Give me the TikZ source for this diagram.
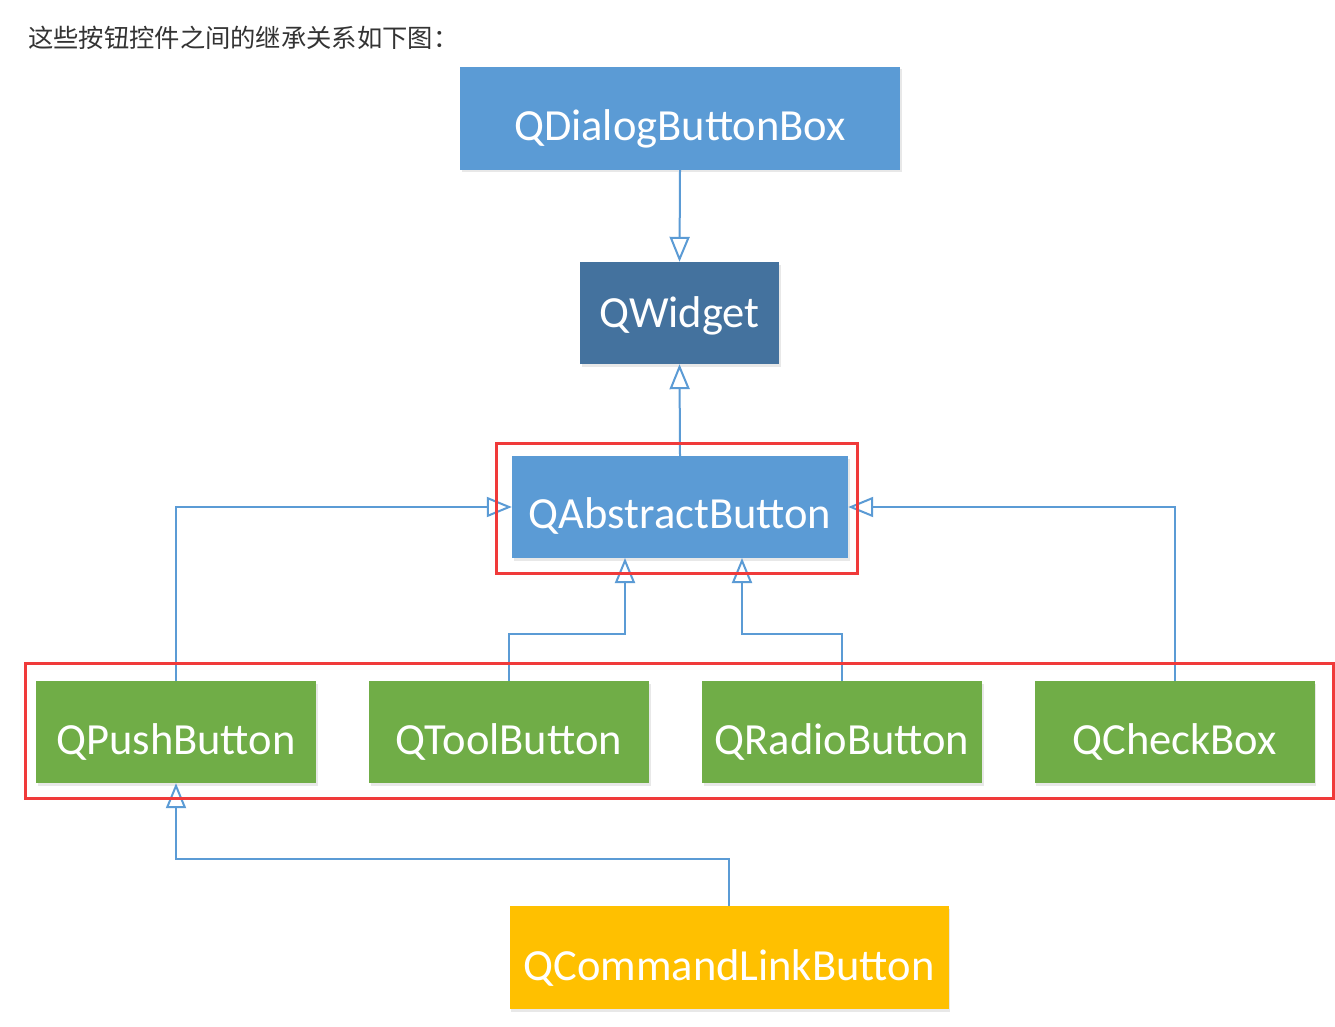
\documentclass[tikz,border=0pt]{standalone}
\usepackage{fontspec}
\setmainfont{Carlito}
\newfontfamily\cjk{Noto Sans CJK SC}
\usetikzlibrary{arrows.meta,shadows}
\definecolor{bluebox}{HTML}{5B9BD5}
\definecolor{darkbox}{HTML}{44729E}
\definecolor{greenbox}{HTML}{70AD47}
\definecolor{yellowbox}{HTML}{FFC000}
\definecolor{linkblue}{HTML}{5B9BD5}
\definecolor{hilite}{HTML}{F03A3A}
\definecolor{titlegray}{HTML}{333333}
\newcommand\lowtext[2]{\raisebox{-#1pt}[\height][\depth]{#2}}
\begin{document}
\begin{tikzpicture}[x=1pt,y=-1pt,
  cls/.style={draw=none, text=white, inner sep=0pt, font=\fontsize{44.5}{47}\selectfont,
    drop shadow={opacity=0.18, shadow xshift=1.5pt, shadow yshift=-2.5pt}},
  inh/.style={draw=linkblue, line width=2pt, -{Triangle[open, length=25pt, width=20pt, fill=white]}},
  frame/.style={draw=hilite, line width=3pt}]
\path[use as bounding box, fill=white] (0,0) rectangle (1335,1027);
\node[anchor=west, text=titlegray, inner sep=0pt, font=\cjk\fontsize{25.3}{27}\selectfont] (title) at (28,38) {这些按钮控件之间的继承关系如下图：};

\node[cls, fill=bluebox, minimum width=440pt, minimum height=103pt] (dbb) at (680,118.5) {\lowtext{10}{QDialogButtonBox}};
\node[cls, fill=darkbox, minimum width=199pt, minimum height=102pt] (wid) at (679.5,313) {\lowtext{3}{QWidget}};
\node[cls, fill=bluebox, minimum width=336pt, minimum height=102pt] (abs) at (680,507) {\lowtext{9}{QAbstractButton}};
\node[cls, fill=greenbox, minimum width=280pt, minimum height=102pt] (push) at (176,732) {\lowtext{10}{QPushButton}};
\node[cls, fill=greenbox, minimum width=280pt, minimum height=102pt] (tool) at (509,732) {\lowtext{10}{QToolButton}};
\node[cls, fill=greenbox, minimum width=280pt, minimum height=102pt] (radio) at (842,732) {\lowtext{10}{QRadioButton}};
\node[cls, fill=greenbox, minimum width=280pt, minimum height=102pt] (check) at (1174.5,732) {\lowtext{10}{QCheckBox}};
\node[cls, fill=yellowbox, minimum width=439pt, minimum height=103pt] (cmd) at (729,957.5) {\lowtext{10}{QCommandLinkButton}};

\draw[inh] (dbb.south) -- (wid.north);
\draw[inh] (abs.north) -- (wid.south);
\draw[inh] (push.north) |- (abs.west);
\draw[inh] (check.north) |- (abs.east);
\draw[inh] (tool.north) -- (509,634) -- (625,634) -- (625,558);
\draw[inh] (radio.north) -- (842,634) -- (742,634) -- (742,558);
\draw[inh] (cmd.north) -- (729,859) -- (176,859) -- (push.south);

\draw[frame] (496.5,443.5) rectangle (857.5,573);
\draw[frame] (25.5,663.5) rectangle (1333.5,798);
\end{tikzpicture}
\end{document}
